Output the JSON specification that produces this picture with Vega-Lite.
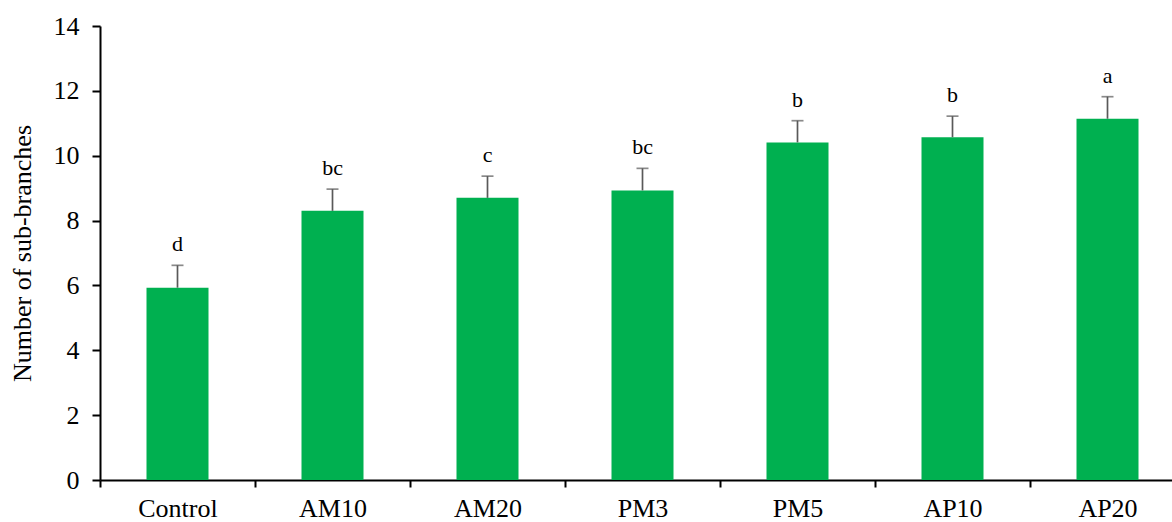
{
  "$schema": "https://vega.github.io/schema/vega-lite/v6.json",
  "autosize": {"type": "none"},
  "padding": {"left": 100, "top": 26, "right": 0, "bottom": 42},
  "width": 1072,
  "height": 454,
  "background": "white",
  "config": {"view": {"stroke": null}},
  "data": {
    "values": [
      {"group": "Control", "mean": 5.93, "upper": 6.62, "letter": "d"},
      {"group": "AM10", "mean": 8.30, "upper": 8.97, "letter": "bc"},
      {"group": "AM20", "mean": 8.70, "upper": 9.37, "letter": "c"},
      {"group": "PM3", "mean": 8.93, "upper": 9.61, "letter": "bc"},
      {"group": "PM5", "mean": 10.41, "upper": 11.08, "letter": "b"},
      {"group": "AP10", "mean": 10.57, "upper": 11.22, "letter": "b"},
      {"group": "AP20", "mean": 11.14, "upper": 11.82, "letter": "a"}
    ]
  },
  "encoding": {
    "x": {
      "field": "group",
      "type": "nominal",
      "sort": null,
      "scale": {"range": [0, 1085], "paddingInner": 0, "paddingOuter": 0},
      "axis": {
        "title": null,
        "labelAngle": 0,
        "tickBand": "extent",
        "domainColor": "black",
        "domainWidth": 2,
        "tickColor": "black",
        "tickWidth": 2,
        "tickSize": 7,
        "labelFont": "Liberation Serif",
        "labelFontSize": 26,
        "labelColor": "black",
        "labelPadding": 8
      }
    }
  },
  "layer": [
    {
      "mark": {"type": "bar", "width": {"band": 0.4}, "color": "#00B050"},
      "encoding": {
        "y": {
          "field": "mean",
          "type": "quantitative",
          "scale": {"domain": [0, 14], "nice": false},
          "axis": {
            "title": "Number of sub-branches",
            "values": [0, 2, 4, 6, 8, 10, 12, 14],
            "grid": false,
            "domainColor": "black",
            "domainWidth": 2,
            "tickColor": "black",
            "tickWidth": 2,
            "tickSize": 8,
            "labelFont": "Liberation Serif",
            "labelFontSize": 26,
            "labelColor": "black",
            "labelPadding": 13,
            "titleFont": "Liberation Serif",
            "titleFontSize": 26,
            "titleFontWeight": "normal",
            "titleColor": "black",
            "titlePadding": 18
          }
        }
      }
    },
    {
      "mark": {"type": "rule", "color": "#595959", "strokeWidth": 1.7},
      "encoding": {
        "y": {"field": "mean", "type": "quantitative"},
        "y2": {"field": "upper"}
      }
    },
    {
      "mark": {"type": "tick", "color": "#595959", "size": 12, "thickness": 1.7, "orient": "horizontal"},
      "encoding": {
        "y": {"field": "upper", "type": "quantitative"}
      }
    },
    {
      "mark": {"type": "text", "font": "Liberation Serif", "fontSize": 22, "color": "black", "baseline": "alphabetic", "dy": -14},
      "encoding": {
        "y": {"field": "upper", "type": "quantitative"},
        "text": {"field": "letter"}
      }
    }
  ]
}
